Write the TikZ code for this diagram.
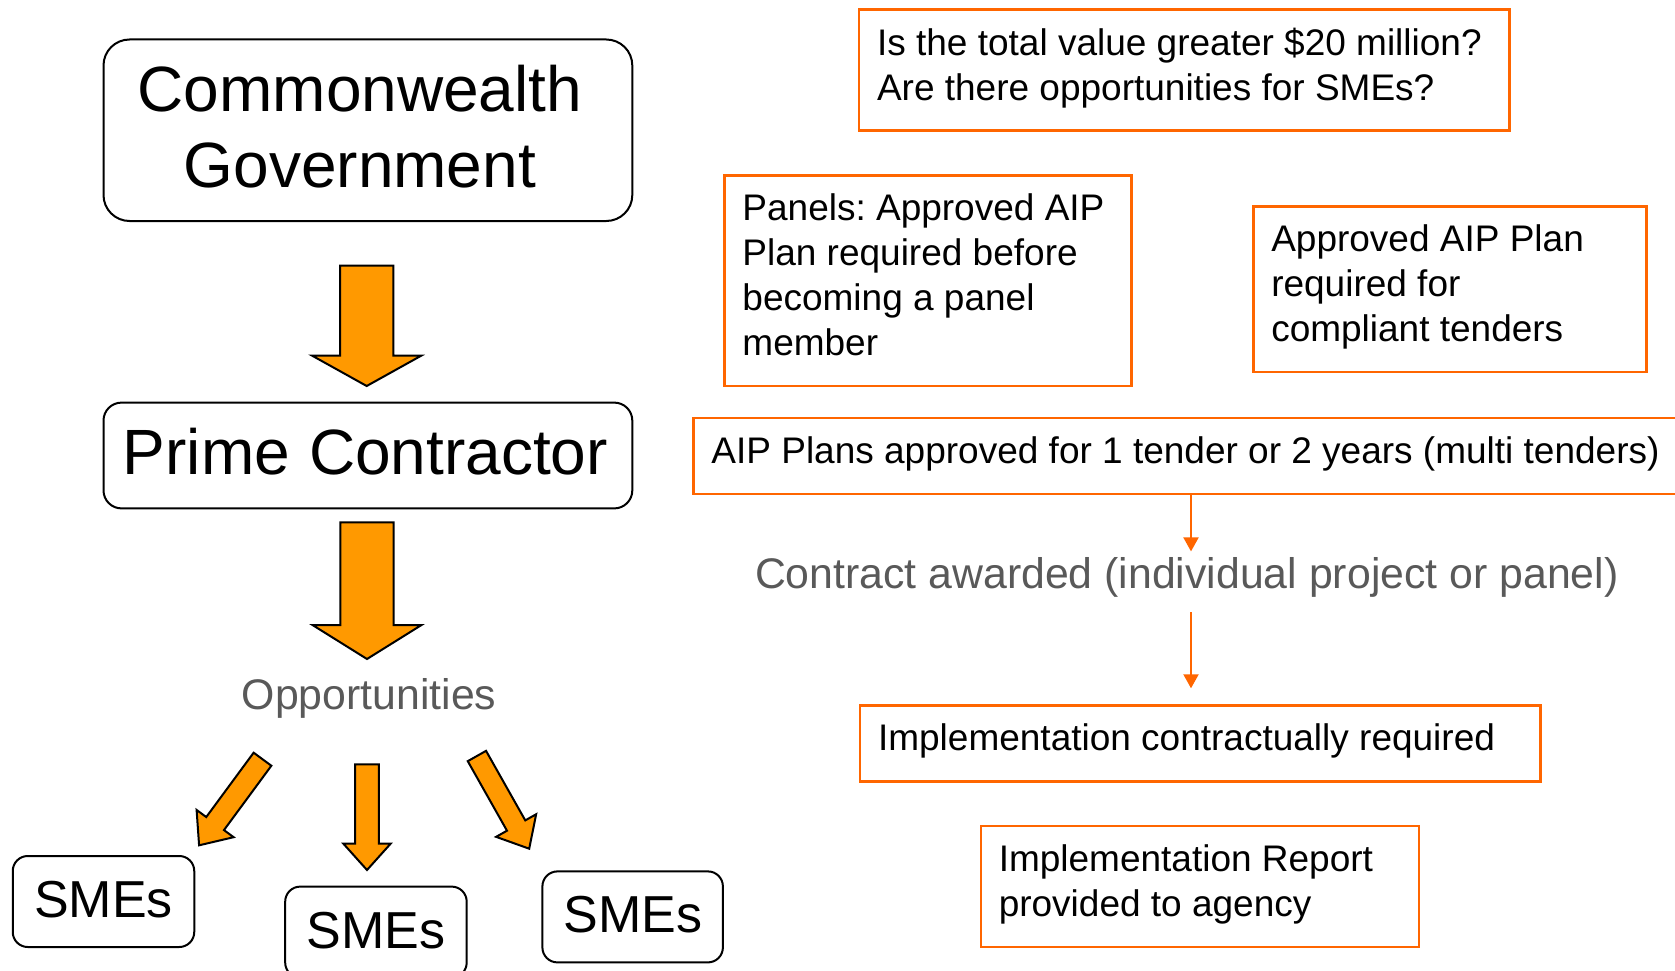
\documentclass[tikz,border=0pt]{standalone}
\usepackage{fontspec}
\setmainfont{Liberation Sans}
\usetikzlibrary{calc,arrows.meta}
\definecolor{oline}{RGB}{255,102,0}
\definecolor{afill}{RGB}{255,153,0}
\definecolor{gtext}{RGB}{89,89,89}
\newcommand\natsp{\spaceskip=0pt\relax\xspaceskip=0pt\relax\frenchspacing\hyphenpenalty=10000\relax}
% tail, tip, half shaft width, half head width, head length
\newcommand\blockarrow[5]{%
  \coordinate (bahead) at ($(#2)!#5!(#1)$);
  \draw[blockarrowstyle]
    ($(#1)!#3!90:(#2)$) -- ($(bahead)!#3!90:(#2)$) -- ($(bahead)!#4!90:(#2)$) --
    (#2) -- ($(bahead)!#4!-90:(#2)$) -- ($(bahead)!#3!-90:(#2)$) --
    ($(#1)!#3!-90:(#2)$) -- cycle;}
\begin{document}
\begin{tikzpicture}[x=1pt,y=-1pt,
  cbox/.style={draw=black, line width=2pt, rounded corners=#1, anchor=north west,
    inner xsep=0pt, inner ysep=0pt, align=center},
  cbox/.default=15pt,
  obox/.style={draw=oline, line width=2.5pt, anchor=north west, inner ysep=0pt,
    inner xsep=18pt, align=left, font=\fontsize{37}{44.8}\selectfont, text height=45.5pt},
  gray label/.style={text=gtext, font=\fontsize{42.8}{50}\selectfont, anchor=base, inner sep=0pt},
  blockarrowstyle/.style={fill=afill, draw=black, line width=2pt, line join=miter},
  conn/.style={draw=oline, line width=2pt, -{Triangle[width=15pt,length=14pt]}}]
\useasboundingbox (0,0) rectangle (1675,971);
\clip (0,0) rectangle (1675,971);

% left column
\node[cbox=26pt, text width=528.8pt, font=\fontsize{64}{76}\selectfont,
  text height=72.2pt, text depth=109.3pt] (cg) at (102.5,38.5)
  {Commonwealth\hbox to 16pt{}\\Government\hbox to 16pt{}};
\node[cbox=18pt, text width=528.8pt, font=\fontsize{64}{76}\selectfont,
  text height=71.7pt, text depth=34.1pt] (pc) at (102.5,401.6)
  {\natsp Prime Contractor\hbox to 5pt{}};
\node[gray label] (opp) at (369,709.3) {Opportunities};
\node[cbox, text width=181.5pt, font=\fontsize{52}{62}\selectfont,
  text height=61.5pt, text depth=29.5pt] (sme1) at (11.75,855) {SMEs};
\node[cbox, text width=181.5pt, font=\fontsize{52}{62}\selectfont,
  text height=61.5pt, text depth=29.5pt] (sme2) at (284.2,885.6) {SMEs};
\node[cbox, text width=180.5pt, font=\fontsize{52}{62}\selectfont,
  text height=61.5pt, text depth=29.5pt] (sme3) at (541.4,870.4) {SMEs};

\coordinate (a1t) at (366.7,265.7);
\coordinate (a1h) at (366.7,386);
\coordinate (a2t) at (367,522.3);
\coordinate (a2h) at (367,659);
\coordinate (a3t) at (262.5,759.2);
\coordinate (a3h) at (199.1,845.3);
\coordinate (a4t) at (367,764.3);
\coordinate (a4h) at (367,870);
\coordinate (a5t) at (476.9,756);
\coordinate (a5h) at (529.2,848.7);
\blockarrow{a1t}{a1h}{26.7pt}{54.5pt}{30.3pt}
\blockarrow{a2t}{a2h}{26.7pt}{54.5pt}{34pt}
\blockarrow{a3t}{a3h}{11pt}{23pt}{27pt}
\blockarrow{a4t}{a4h}{11.8pt}{23.6pt}{26.3pt}
\blockarrow{a5t}{a5h}{10.5pt}{23pt}{26.6pt}

% right column
\node[obox, text width=614.5pt, text depth=75.3pt] (q) at (857.8,8.5)
  {\natsp Is the total value greater \$20 million?\\Are there opportunities for SMEs?};
\node[obox, text width=371pt, text depth=164.9pt] (panels) at (723.2,174.1)
  {\natsp Panels: Approved AIP\\Plan required before\\becoming a panel\\member};
\node[obox, text width=357pt, text depth=120.1pt] (appr) at (1252,205)
  {\natsp Approved AIP Plan\\required for\\compliant tenders};
\node[obox, text width=964pt, text depth=30.5pt] (aip) at (692.2,416.6)
  {\natsp AIP Plans approved for 1 tender or 2 years (multi tenders)};
\node[gray label, text height=31pt, text depth=9pt] (contract) at (1186.8,588.3)
  {Contract awarded (individual project or panel)};
\node[obox, text width=644.5pt, text depth=30.5pt] (impl) at (858.8,704)
  {\natsp Implementation contractually required};
\node[obox, text width=402pt, text depth=75.3pt] (report) at (979.5,824.7)
  {\natsp Implementation Report\\provided to agency};

\coordinate (cx) at (1191,0);
\draw[conn, shorten >=5.7pt] (aip.south -| cx) -- (contract.north -| cx);
\draw[conn, shorten <=14.7pt, shorten >=15.7pt] (contract.south -| cx) -- (impl.north -| cx);
\end{tikzpicture}
\end{document}
